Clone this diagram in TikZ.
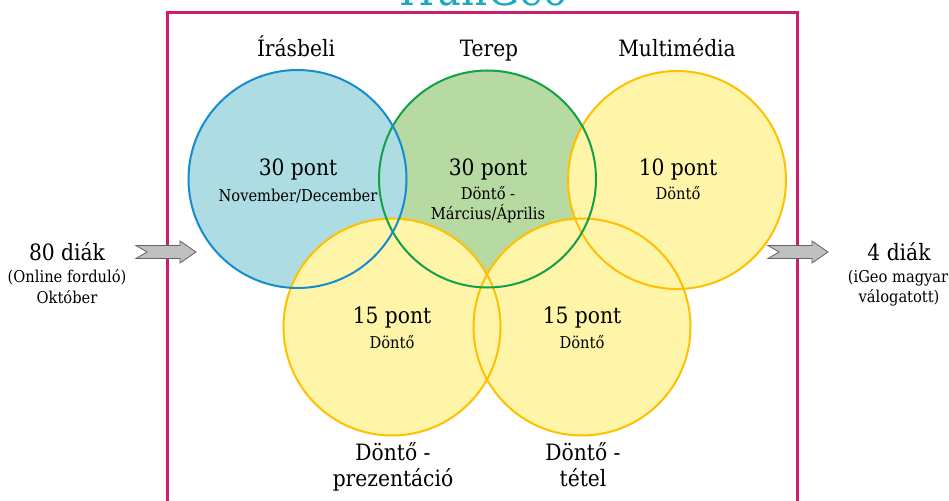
\documentclass[tikz,border=0pt]{standalone}
\usepackage{fontspec}
\setmainfont{DejaVu Serif Condensed}
\usepackage{xcolor}
\usetikzlibrary{positioning}

\definecolor{frameRed}{RGB}{204,32,110}
\definecolor{titleCyan}{RGB}{28,168,196}
\definecolor{blueFill}{RGB}{173,220,227}
\definecolor{blueLine}{RGB}{20,140,210}
\definecolor{greenFill}{RGB}{183,217,162}
\definecolor{greenLine}{RGB}{20,160,70}
\definecolor{yellowFill}{RGB}{255,245,168}
\definecolor{yellowLine}{RGB}{255,192,0}
\definecolor{arrowFill}{RGB}{192,192,192}
\definecolor{arrowLine}{RGB}{100,100,100}

\tikzset{
  big/.style={font=\fontsize{22.5}{27}\selectfont, inner sep=0pt, anchor=base},
  small/.style={font=\fontsize{16.3}{20}\selectfont, inner sep=0pt, anchor=base},
  ring/.style={line width=2pt},
  blockarrow/.pic={
    \draw[fill=arrowFill, draw=arrowLine, line width=0.8pt]
      (-30,-6.5) -- (14,-6.5) -- (14,-11) -- (30,0) -- (14,11) -- (14,6.5)
      -- (-30,6.5) -- (-19,0) -- cycle;
  }
}

\begin{document}
\begin{tikzpicture}[x=1pt, y=-1pt]
  \useasboundingbox (0,0) rectangle (949,500);
  \clip (0,0) rectangle (949,500);
  \fill[white] (0,0) rectangle (949,500);

  % circle centres
  \coordinate (irasC) at (297.5,179);
  \coordinate (terepC) at (487.5,179);
  \coordinate (multiC) at (677,180);
  \coordinate (prezC) at (392,327);
  \coordinate (tetelC) at (582,327);

  % fills (order matters)
  \fill[greenFill] (terepC) circle[radius=108.5pt];
  \fill[blueFill] (irasC) circle[radius=109pt];
  \fill[yellowFill] (multiC) circle[radius=109pt];
  \fill[yellowFill] (prezC) circle[radius=108.5pt];
  \fill[yellowFill] (tetelC) circle[radius=108.5pt];

  % outlines on top
  \draw[ring, yellowLine] (multiC) circle[radius=109pt];
  \draw[ring, yellowLine] (prezC) circle[radius=108.5pt];
  \draw[ring, yellowLine] (tetelC) circle[radius=108.5pt];
  \draw[ring, greenLine] (terepC) circle[radius=108.5pt];
  \draw[ring, blueLine] (irasC) circle[radius=109pt];

  % frame and title
  \draw[frameRed, line width=3pt] (167,530) rectangle (797,13);
  \node[font=\fontsize{45}{50}\selectfont, text=titleCyan, inner sep=0pt, anchor=base] (title) at (484,6) {HunGeo};

  % headings
  \node[big] (irasbeli) at (296,57) {Írásbeli};
  \node[big] (terep) at (489,57) {Terep};
  \node[big] (multimedia) at (677,57) {Multimédia};

  % circle texts
  \node[big] (irasPont) at (298,175) {30 pont};
  \node[small] (irasIdo) at (298,201) {November/December};
  \node[big] (terepPont) at (488,175) {30 pont};
  \node[small] (terepDonto) at (488,199) {Döntő -};
  \node[small] (terepIdo) at (488,219) {Március/Április};
  \node[big] (multiPont) at (678,175) {10 pont};
  \node[small] (multiDonto) at (678,199) {Döntő};
  \node[big] (prezPont) at (392,323) {15 pont};
  \node[small] (prezDonto) at (392,348) {Döntő};
  \node[big] (tetelPont) at (582,323) {15 pont};
  \node[small] (tetelDonto) at (582,348) {Döntő};

  % bottom labels
  \node[big] (prezLabel) at (393,460) {Döntő -};
  \node[big] (prezLabel2) at (393,486) {prezentáció};
  \node[big] (tetelLabel) at (583,460) {Döntő -};
  \node[big] (tetelLabel2) at (583,486) {tétel};

  % in / out
  \node[big] (start) at (67,260) {80 diák};
  \node[small] (start2) at (67,282) {(Online forduló)};
  \node[small] (start3) at (67,303) {Október};
  \node[big] (finish) at (899,260) {4 diák};
  \node[small] (finish2) at (898,282) {(iGeo magyar};
  \node[small] (finish3) at (899,302) {válogatott)};

  \pic at (166,252) {blockarrow};
  \pic at (798,252) {blockarrow};
\end{tikzpicture}
\end{document}
